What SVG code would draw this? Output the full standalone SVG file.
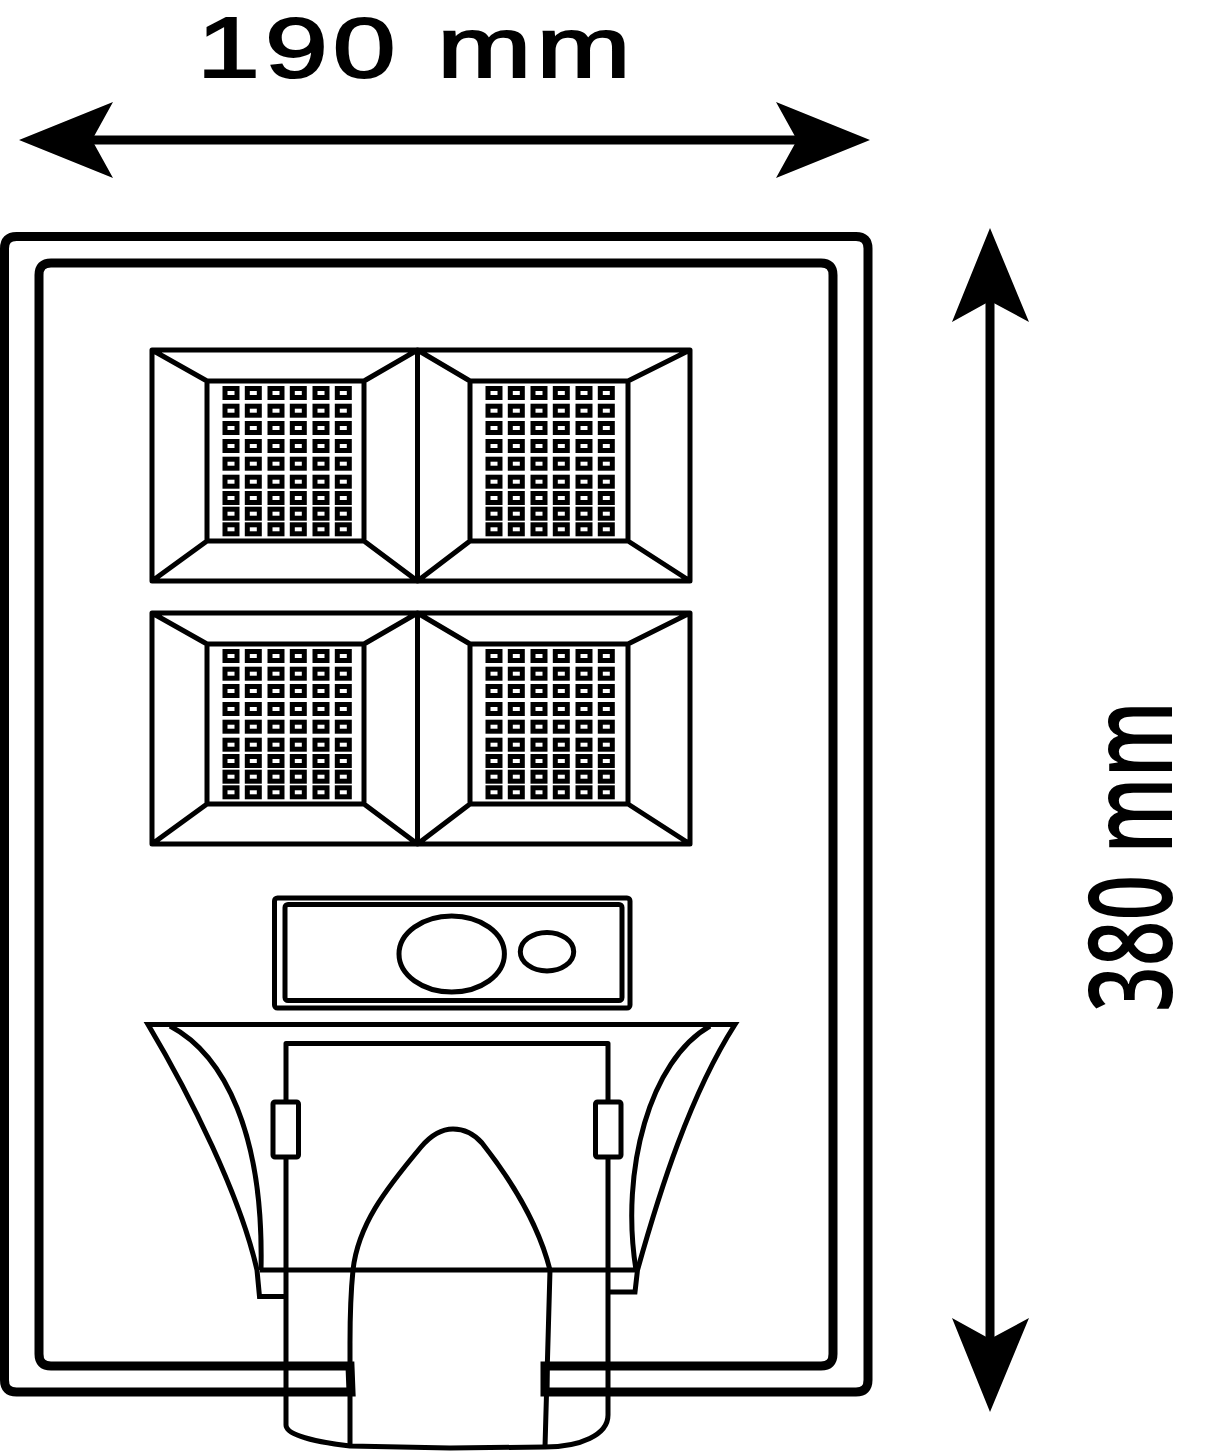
<svg xmlns="http://www.w3.org/2000/svg" xmlns:xlink="http://www.w3.org/1999/xlink" width="1205" height="1452" viewBox="0 0 1205 1452">
<style>
.l{fill:none;stroke:#000;stroke-width:5;stroke-linejoin:round}
.m{fill:none;stroke:#000;stroke-width:5;stroke-linejoin:miter;stroke-miterlimit:12}
.w{fill:#fff;stroke:#000;stroke-width:5;stroke-linejoin:round}
.f{fill:none;stroke:#000;stroke-width:9;stroke-linejoin:miter}
.led{fill:none;stroke:#000;stroke-width:5}
.dim{fill:none;stroke:#000;stroke-width:9}
.t{fill:#000}
</style>
<defs>
<g id="row"><rect class="led" x="225" y="-4.500" width="12" height="9"/><rect class="led" x="247.300" y="-4.500" width="12" height="9"/><rect class="led" x="270" y="-4.500" width="12" height="9"/><rect class="led" x="292.300" y="-4.500" width="12" height="9"/><rect class="led" x="315" y="-4.500" width="12" height="9"/><rect class="led" x="337.300" y="-4.500" width="12" height="9"/></g>
<g id="rows"><use xlink:href="#row" y="393"/><use xlink:href="#row" y="410.700"/><use xlink:href="#row" y="428"/><use xlink:href="#row" y="446"/><use xlink:href="#row" y="463.700"/><use xlink:href="#row" y="481.700"/><use xlink:href="#row" y="498"/><use xlink:href="#row" y="513.700"/><use xlink:href="#row" y="529.300"/></g>
<g id="panel">
<path class="l" d="M152 350H417.500V581H152ZM207 381H364V541H207ZM152 350L207 381M152 581L207 541M417.500 350L364 381M417.500 581L364 541"/>
<use xlink:href="#rows"/>
</g>
<g id="panel2">
<path class="l" d="M417.500 350H690V581H417.500ZM470 381H628V541H470ZM417.500 350L470 381M417.500 581L470 541M690 350L628 381M690 581L628 541"/>
<use xlink:href="#rows" x="263"/>
</g>
</defs>
<g id="frame"><path class="f" d="M350 1366H51Q39 1366 39 1354V275Q39 263 51 263H821Q833 263 833 275V1354Q833 1366 821 1366H545V1392H856Q868 1392 868 1380V248.500Q868 236.500 856 236.500H16.500Q4.500 236.500 4.500 248.500V1380Q4.500 1392 16.500 1392H351Z"/></g>
<g id="panel-tl"><use xlink:href="#panel"/></g>
<g id="panel-tr"><use xlink:href="#panel2"/></g>
<g id="panel-bl"><use xlink:href="#panel" y="263"/></g>
<g id="panel-br"><use xlink:href="#panel2" y="263"/></g>
<g id="sensor">
<rect class="l" x="274.500" y="898" width="355.500" height="110" rx="3"/>
<rect class="l" x="285" y="904.500" width="337" height="96" rx="3"/>
<ellipse class="l" cx="451.700" cy="954" rx="52.700" ry="38"/>
<ellipse class="l" cx="547" cy="951.700" rx="26.700" ry="19.300"/>
</g>
<g id="bracket">
<path class="m" d="M285 1296.500H259.500L257 1270C240 1195 190 1095 148 1024.500H735C690 1095 660 1190 637.500 1270L635 1292H608"/>
<path class="l" d="M170 1026C225 1055 264 1135 261 1270M710 1026C650 1060 620 1170 636 1270M260 1270H637"/>
<path class="l" d="M286 1425V1043.500H608V1415C608 1435 580 1447 545 1447L450 1448L350 1446C315 1442 286 1435 286 1425Z"/>
<path class="l" d="M353 1270C358 1225 385 1190 421 1147C432 1134 442 1129 453 1129C465 1129 474 1134 482 1143C515 1185 540 1230 550 1270L545 1447M353 1270C350 1300 350 1320 350 1343V1446"/>
<rect class="w" x="273" y="1102" width="25.500" height="55" rx="2"/>
<rect class="w" x="595.500" y="1102" width="25.500" height="55" rx="2"/>
</g>
<g id="connectors">
<path class="dim" d="M80 140H810"/>
<path d="M19 140L113 102L92 140L113 178Z"/>
<path d="M870 140L776 102L797 140L776 178Z"/>
<path class="dim" d="M990 290V1350"/>
<path d="M990 228L952 322L990 301L1029 322Z"/>
<path d="M990 1412L952 1318L990 1339L1029 1318Z"/>
</g>
<g id="labels">
<text class="t" transform="translate(197 77) scale(1.330 1)" font-family="'Liberation Sans',sans-serif" font-size="85" stroke="#000" stroke-width="2" letter-spacing="3.800">190 mm</text>
<text class="t" transform="translate(1172 1012) rotate(-90)" font-family="'Open Sans',sans-serif" font-size="116" font-weight="550" textLength="311" lengthAdjust="spacingAndGlyphs">380 mm</text>
</g>
</svg>
